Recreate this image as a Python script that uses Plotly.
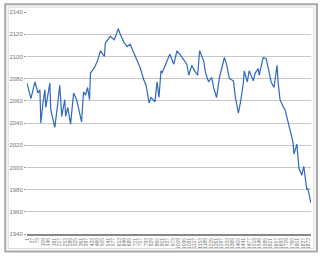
import plotly.graph_objects as go

idx = [1, 27, 54, 74, 87, 93, 107, 120, 126, 153, 159, 186, 206, 219, 232, 252, 258, 272, 291, 311,
       331, 351, 364, 377, 390, 404, 417, 423, 450, 470, 489, 516, 522, 555, 582, 608, 621, 648, 668, 687,
       714, 734, 753, 780, 793, 813, 826, 852, 866, 879, 892, 899, 932, 951, 978, 998, 1017, 1037, 1064, 1077,
       1097, 1116, 1136, 1149, 1176, 1189, 1209, 1229, 1242, 1262, 1281, 1314, 1328, 1347, 1374, 1387, 1407, 1420, 1440, 1446,
       1466, 1479, 1506, 1519, 1539, 1545, 1572, 1592, 1605, 1625, 1644, 1664, 1671, 1684, 1704, 1717, 1730, 1743, 1770, 1777,
       1796, 1810, 1829, 1842, 1849, 1862, 1869, 1889]
vals = [2076, 2062, 2077, 2067, 2070, 2040, 2058, 2070, 2054, 2076, 2052, 2036, 2058, 2074, 2046, 2061, 2046, 2054, 2039, 2067,
        2061, 2049, 2041, 2068, 2065, 2072, 2061, 2085, 2090, 2096, 2105, 2100, 2112, 2118, 2115, 2125, 2120, 2112, 2109, 2111,
        2102, 2096, 2090, 2078, 2074, 2058, 2063, 2059, 2077, 2063, 2087, 2085, 2096, 2102, 2093, 2105, 2102, 2098, 2093, 2083,
        2092, 2087, 2083, 2105, 2096, 2085, 2077, 2081, 2072, 2063, 2081, 2099, 2093, 2080, 2078, 2063, 2049, 2058, 2076, 2087,
        2077, 2087, 2078, 2085, 2089, 2083, 2099, 2098, 2090, 2077, 2072, 2092, 2077, 2061, 2055, 2052, 2045, 2037, 2023, 2012,
        2021, 1999, 1993, 2001, 1993, 1980, 1981, 1968]

x_ticks = [1, 37, 73, 109, 145, 181, 217, 253, 289, 325, 361, 397, 433, 469, 505, 541, 577, 613, 649, 685,
           721, 757, 793, 829, 865, 901, 937, 973, 1009, 1045, 1081, 1117, 1153, 1189, 1225, 1261, 1297, 1333,
           1369, 1405, 1441, 1477, 1513, 1549, 1585, 1621, 1657, 1693, 1729, 1765, 1801, 1837, 1873]
y_ticks = [1940, 1960, 1980, 2000, 2020, 2040, 2060, 2080, 2100, 2120, 2140]

fig = go.Figure()
fig.add_trace(go.Scatter(x=idx, y=vals, mode="lines",
                         line=dict(color="#2f68bd", width=1.2), showlegend=False))

L, R, T, B = 24, 9, 10, 21
W, H = 320, 258
pw, ph = W - L - R, H - T - B


def px(x):
    return (x - L) / pw


def py(y):
    return (H - B - y) / ph


fig.update_layout(
    width=W, height=H,
    margin=dict(l=L, r=R, t=T, b=B),
    paper_bgcolor="white", plot_bgcolor="white",
    font=dict(family="Liberation Sans, Arial", color="#666666"),
    xaxis=dict(range=[1, 1890], tickmode="array", tickvals=x_ticks,
               ticktext=[str(t) for t in x_ticks], tickangle=-90,
               tickfont=dict(size=5, color="#777777"), showgrid=False,
               showline=True, linecolor="#888888", linewidth=2,
               ticks="", zeroline=False),
    yaxis=dict(range=[1940, 2140], tickmode="array", tickvals=y_ticks,
               tickfont=dict(size=6, color="#777777"), showgrid=True,
               gridcolor="#c8c8c8", gridwidth=1, showline=False,
               ticks="outside", ticklen=2, tickcolor="#999999", zeroline=False),
)

# outer chart frame
fig.add_shape(type="rect", xref="paper", yref="paper",
              x0=px(2), x1=px(W - 3), y0=py(H - 3), y1=py(2),
              line=dict(color="#a8a8a8", width=2), layer="above")
fig.add_shape(type="rect", xref="paper", yref="paper",
              x0=px(5), x1=px(W - 6), y0=py(H - 6), y1=py(5),
              line=dict(color="#d8d8d8", width=1), layer="above")

fig.write_html("out.html")
